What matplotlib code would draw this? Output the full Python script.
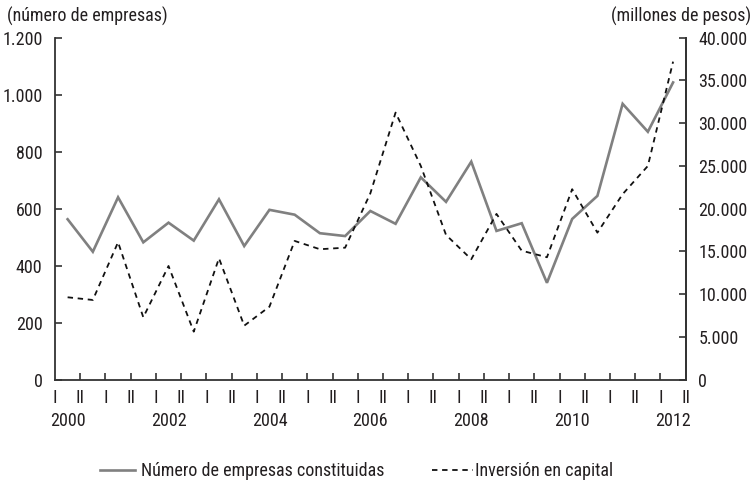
import matplotlib
matplotlib.use("Agg")
import matplotlib.pyplot as plt
from matplotlib.ticker import FuncFormatter, FixedLocator
from matplotlib.lines import Line2D
import matplotlib.transforms as mtransforms

plt.rcParams['font.family'] = ['Roboto Condensed', 'Archivo Narrow', 'DejaVu Sans']

# ---- data ----
semester_labels = ['I', 'II'] * 13          # 2000 I ... 2012 II
year_labels = ['2000', '2002', '2004', '2006', '2008', '2010', '2012']
year_positions = [0, 4, 8, 12, 16, 20, 24]  # index of data point under which the year sits

empresas = [563, 449, 640, 482, 551, 488, 633, 469, 596, 579, 514, 504, 592,
            547, 710, 624, 765, 522, 549, 340, 564, 645, 968, 870, 1043]
inversion = [9640, 9325, 16080, 7300, 13300, 5620, 14200, 6320, 8540, 16230,
             15260, 15440, 21800, 31240, 25000, 16930, 14090, 19390, 15090,
             14320, 22280, 17200, 21700, 25000, 37200]

series_names = ['Número de empresas constituidas', 'Inversión en capital']
left_ticks = [0, 200, 400, 600, 800, 1000, 1200]
right_ticks = [0, 5000, 10000, 15000, 20000, 25000, 30000, 35000, 40000]

# ---- figure ----
W, H = 754, 482
fig = plt.figure(figsize=(W / 100, H / 100), dpi=100)
ax = fig.add_axes([55 / W, 1 - 379.7 / H, (685.7 - 55) / W, (379.7 - 37.7) / H])
ax2 = ax.twinx()

txt = '#231f20'
spc = '#333333'
grey = '#808080'
fs = 13

xs = [i + 0.5 for i in range(len(empresas))]
ax.plot(xs, empresas, color=grey, lw=1.9, solid_joinstyle='miter', zorder=2)
l2, = ax2.plot(xs, inversion, color='#111111', lw=1.3, zorder=3)
l2.set_dashes((3.0, 2.6))

ax.set_xlim(0, len(semester_labels) - 1)
ax.set_ylim(0, 1200)
ax2.set_ylim(0, 40000)

fmt = FuncFormatter(lambda v, p: f'{int(v):,}'.replace(',', '.'))
ax.yaxis.set_major_locator(FixedLocator(left_ticks))
ax.yaxis.set_major_formatter(fmt)
ax2.yaxis.set_major_locator(FixedLocator(right_ticks))
ax2.yaxis.set_major_formatter(fmt)

for a in (ax, ax2):
    a.spines['top'].set_visible(False)
    for s in a.spines.values():
        s.set_color(spc)
        s.set_linewidth(1.3)
ax2.spines['left'].set_visible(False)
ax2.spines['bottom'].set_visible(False)

ax.tick_params(axis='y', direction='in', length=5, width=1.2, color=spc,
               labelsize=fs, labelcolor=txt, pad=9)
ax2.tick_params(axis='y', direction='in', length=5, width=1.2, color=spc,
                labelsize=fs, labelcolor=txt, pad=9)
ax.set_xticks(range(1, len(semester_labels) - 1))
ax.set_xticklabels([])
ax.tick_params(axis='x', direction='in', length=5, width=1.2, color=spc)

# semester and year labels below the axis
trans = mtransforms.blended_transform_factory(ax.transData, fig.transFigure)
for i, lab in enumerate(semester_labels):
    fig.text(0, 0, lab, transform=trans, ha='center', va='center',
             fontsize=fs, color=txt).set_position((i, 1 - 398 / H))
for pos, lab in zip(year_positions, year_labels):
    fig.text(0, 0, lab, transform=trans, ha='center', va='center',
             fontsize=fs, color=txt).set_position((pos + 0.5, 1 - 421 / H))

fig.text(7 / W, 1 - 16 / H, '(número de empresas)', ha='left', va='center',
         fontsize=fs, color=txt)
fig.text(751 / W, 1 - 16 / H, '(millones de pesos)', ha='right', va='center',
         fontsize=fs, color=txt)

# legend (two entries placed separately, as in the reference)
h1 = Line2D([], [], color=grey, lw=1.9)
h2 = Line2D([], [], color='#111111', lw=1.3, dashes=(3.0, 2.6))
fig.legend([h1], [series_names[0]], loc='center left',
           bbox_to_anchor=(100 / W, 1 - 471 / H), frameon=False,
           fontsize=fs, handlelength=1.95, handletextpad=0.33,
           labelcolor=txt, borderpad=0, borderaxespad=0)
fig.legend([h2], [series_names[1]], loc='center left',
           bbox_to_anchor=(432 / W, 1 - 471 / H), frameon=False,
           fontsize=fs, handlelength=2.25, handletextpad=0.15,
           labelcolor=txt, borderpad=0, borderaxespad=0)

fig.savefig('out.png', dpi=100)
